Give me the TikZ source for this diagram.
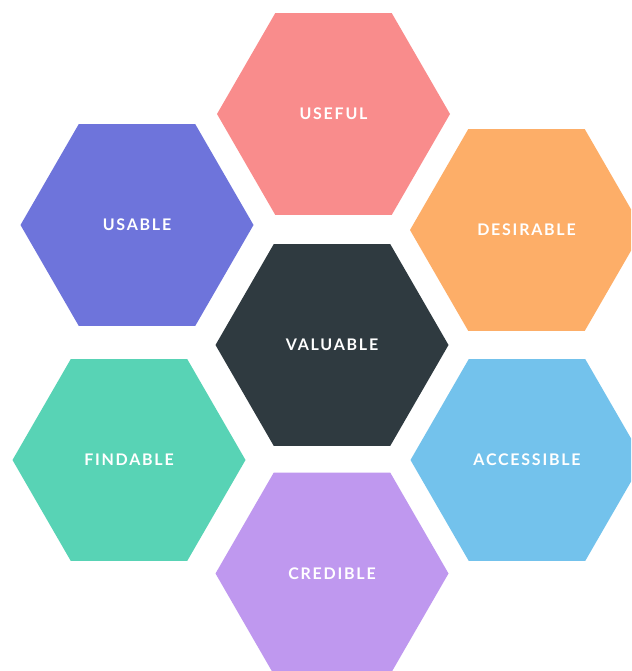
\documentclass[tikz,border=0pt]{standalone}
\usepackage{fontspec}
\setmainfont{Lato}
\newfontfamily\hexfont[LetterSpace=11]{Lato Bold}
\usetikzlibrary{shapes.geometric}
\definecolor{cuseful}{HTML}{F98C8C}
\definecolor{cdesirable}{HTML}{FDAE68}
\definecolor{cvaluable}{HTML}{2F3A40}
\definecolor{cusable}{HTML}{6E74DB}
\definecolor{cfindable}{HTML}{58D3B5}
\definecolor{caccessible}{HTML}{73C2EC}
\definecolor{ccredible}{HTML}{BF98EF}
\tikzset{
  hexbox/.style={regular polygon, regular polygon sides=6, minimum size=233pt,
    inner sep=0pt, outer sep=0pt, draw=none, text=white,
    font=\hexfont\fontsize{16}{19}\selectfont}
}
\begin{document}
\begin{tikzpicture}[x=1pt,y=-1pt]
\useasboundingbox[fill=white] (0,0) rectangle (631,671);
\begin{scope}
\clip (0,0) rectangle (631,671);
\node[hexbox, fill=cuseful] (useful) at (333.5,114) {USEFUL};
\node[hexbox, fill=cdesirable] (desirable) at (526.5,230) {DESIRABLE};
\node[hexbox, fill=cvaluable] (valuable) at (332,345) {VALUABLE};
\node[hexbox, fill=cusable] (usable) at (137,225) {USABLE};
\node[hexbox, fill=cfindable] (findable) at (129,460) {FINDABLE};
\node[hexbox, fill=caccessible] (accessible) at (527,460) {ACCESSIBLE};
\node[hexbox, fill=ccredible] (credible) at (332,573.5) {CREDIBLE};
\end{scope}
\end{tikzpicture}
\end{document}
